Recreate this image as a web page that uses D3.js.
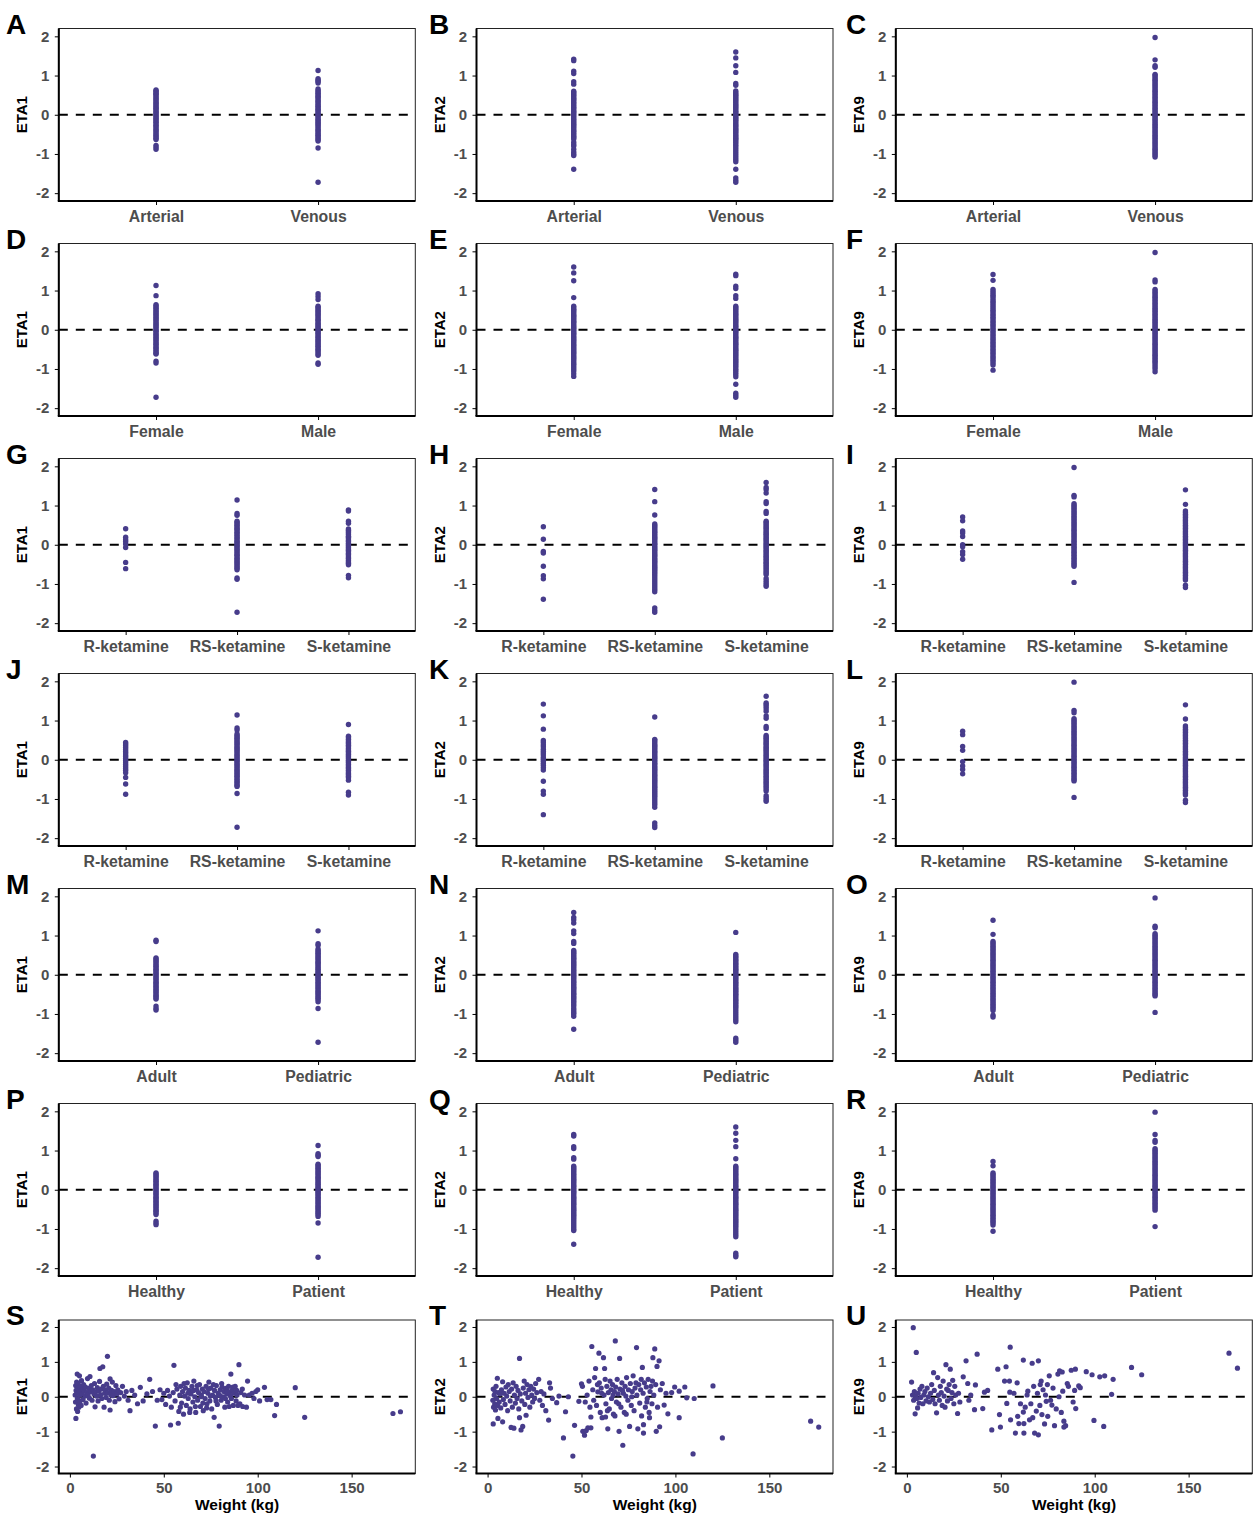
<!DOCTYPE html>
<html>
<head>
<meta charset="utf-8">
<script src="https://cdn.jsdelivr.net/npm/d3@7"></script>
<style>
  body { margin: 0; background: #fff; }
  text { font-family: "Liberation Sans", Arial, sans-serif; }
</style>
</head>
<body>
<div id="chart"></div>
<script>
// 1: DATA
const etaTicks = [-2, -1, 0, 1, 2];
const weightTicks = [0, 50, 100, 150];
const etaNames = ["ETA1", "ETA2", "ETA9"];
const panelLetters = "ABCDEFGHIJKLMNOPQRSTU".split("");

const siteCats = ["Arterial", "Venous"];
const sexCats = ["Female", "Male"];
const formCats = ["R-ketamine", "RS-ketamine", "S-ketamine"];
const popCats = ["Adult", "Pediatric"];
const healthCats = ["Healthy", "Patient"];

// sampling site
const eta1Site = [
  [0.63,0.61,0.58,0.55,0.52,0.49,0.45,0.42,0.38,0.35,0.31,0.28,0.25,0.21,0.18,0.15,0.12,0.08,0.05,0.02,-0.02,-0.05,-0.09,-0.12,-0.16,-0.19,-0.23,-0.27,-0.3,-0.34,-0.38,-0.41,-0.45,-0.49,-0.53,-0.56,-0.6,-0.63,-0.78,-0.83,-0.88],
  [1.13,0.92,0.88,0.85,0.81,0.66,0.62,0.58,0.55,0.51,0.47,0.44,0.4,0.36,0.33,0.29,0.25,0.22,0.18,0.14,0.11,0.07,0.03,0,-0.04,-0.08,-0.12,-0.15,-0.19,-0.23,-0.26,-0.3,-0.34,-0.38,-0.41,-0.45,-0.49,-0.52,-0.56,-0.6,-0.64,-0.67,-0.85,-1.72]
];
const eta2Site = [
  [1.42,1.38,1.11,1.05,0.84,0.78,0.6,0.57,0.53,0.5,0.46,0.42,0.39,0.35,0.31,0.28,0.24,0.2,0.17,0.13,0.09,0.06,0.02,-0.02,-0.06,-0.1,-0.13,-0.17,-0.21,-0.25,-0.28,-0.32,-0.36,-0.4,-0.43,-0.47,-0.51,-0.55,-0.58,-0.62,-0.7,-0.76,-0.8,-0.88,-0.95,-1.0,-1.04,-1.39],
  [1.6,1.45,1.25,1.08,0.8,0.75,0.61,0.57,0.53,0.5,0.46,0.42,0.38,0.35,0.31,0.27,0.23,0.2,0.16,0.12,0.08,0.05,0.01,-0.03,-0.07,-0.1,-0.14,-0.18,-0.22,-0.26,-0.29,-0.33,-0.37,-0.41,-0.44,-0.48,-0.52,-0.56,-0.6,-0.63,-0.67,-0.71,-0.76,-0.8,-0.85,-0.9,-0.95,-1.0,-1.05,-1.1,-1.15,-1.2,-1.39,-1.61,-1.67,-1.72]
];
const eta9Site = [
  [],
  [1.97,1.4,1.25,1.21,1.03,1.0,0.96,0.92,0.88,0.84,0.8,0.76,0.72,0.68,0.64,0.6,0.56,0.52,0.48,0.44,0.4,0.36,0.32,0.28,0.24,0.2,0.16,0.12,0.08,0.04,0,-0.04,-0.08,-0.12,-0.16,-0.2,-0.24,-0.28,-0.32,-0.36,-0.4,-0.44,-0.48,-0.52,-0.56,-0.6,-0.64,-0.68,-0.72,-0.76,-0.8,-0.84,-0.88,-0.92,-0.96,-1.0,-1.04,-1.08]
];

// sex
const eta1Sex = [
  [1.13,0.87,0.64,0.61,0.57,0.54,0.5,0.46,0.43,0.39,0.36,0.32,0.28,0.25,0.21,0.17,0.14,0.1,0.07,0.03,-0.01,-0.04,-0.08,-0.12,-0.15,-0.19,-0.23,-0.26,-0.3,-0.34,-0.37,-0.41,-0.45,-0.48,-0.52,-0.56,-0.6,-0.62,-0.8,-0.85,-1.72],
  [0.92,0.85,0.77,0.6,0.57,0.53,0.49,0.46,0.42,0.38,0.35,0.31,0.27,0.24,0.2,0.16,0.13,0.09,0.05,0.02,-0.02,-0.06,-0.09,-0.13,-0.17,-0.2,-0.24,-0.28,-0.31,-0.35,-0.39,-0.42,-0.46,-0.5,-0.53,-0.57,-0.61,-0.65,-0.85,-0.88]
];
const eta2Sex = [
  [1.6,1.45,1.25,0.82,0.6,0.56,0.52,0.49,0.45,0.41,0.37,0.34,0.3,0.26,0.22,0.19,0.15,0.11,0.07,0.04,0,-0.04,-0.08,-0.11,-0.15,-0.19,-0.23,-0.26,-0.3,-0.34,-0.38,-0.41,-0.45,-0.49,-0.53,-0.57,-0.6,-0.64,-0.68,-0.72,-0.76,-0.81,-0.86,-0.9,-0.95,-1.0,-1.05,-1.12,-1.19],
  [1.42,1.38,1.11,1.05,0.87,0.8,0.6,0.56,0.53,0.49,0.45,0.41,0.38,0.34,0.3,0.26,0.23,0.19,0.15,0.11,0.08,0.04,0,-0.04,-0.07,-0.11,-0.15,-0.19,-0.22,-0.26,-0.3,-0.34,-0.37,-0.41,-0.45,-0.49,-0.52,-0.56,-0.6,-0.64,-0.67,-0.71,-0.75,-0.79,-0.83,-0.87,-0.91,-0.95,-1.0,-1.04,-1.09,-1.14,-1.2,-1.39,-1.62,-1.67,-1.72]
];
const eta9Sex = [
  [1.41,1.26,1.03,0.98,0.93,0.88,0.84,0.79,0.74,0.7,0.65,0.6,0.55,0.5,0.46,0.41,0.37,0.32,0.28,0.23,0.19,0.14,0.1,0.05,0.01,-0.04,-0.08,-0.13,-0.17,-0.22,-0.26,-0.31,-0.35,-0.4,-0.44,-0.49,-0.53,-0.58,-0.62,-0.67,-0.71,-0.76,-0.8,-0.85,-0.9,-1.03],
  [1.97,1.27,1.22,1.03,0.99,0.95,0.91,0.87,0.83,0.79,0.75,0.71,0.67,0.63,0.59,0.55,0.51,0.47,0.43,0.39,0.35,0.31,0.27,0.23,0.19,0.15,0.11,0.07,0.03,-0.01,-0.05,-0.09,-0.13,-0.17,-0.21,-0.25,-0.29,-0.33,-0.37,-0.41,-0.45,-0.49,-0.53,-0.57,-0.61,-0.65,-0.69,-0.73,-0.77,-0.81,-0.85,-0.9,-0.95,-1.0,-1.07]
];

// formulation (first grouping)
const eta1Form = [
  [0.41,0.19,0.13,0.08,0.02,-0.07,-0.45,-0.61],
  [1.14,0.8,0.75,0.6,0.57,0.53,0.5,0.46,0.42,0.39,0.35,0.31,0.28,0.24,0.2,0.17,0.13,0.09,0.06,0.02,-0.02,-0.05,-0.09,-0.13,-0.16,-0.2,-0.24,-0.27,-0.31,-0.35,-0.38,-0.42,-0.46,-0.49,-0.53,-0.57,-0.6,-0.64,-0.85,-0.88,-1.72],
  [0.89,0.86,0.6,0.55,0.4,0.37,0.33,0.3,0.26,0.22,0.19,0.15,0.11,0.08,0.04,0,-0.03,-0.07,-0.11,-0.14,-0.18,-0.22,-0.25,-0.29,-0.33,-0.36,-0.4,-0.44,-0.47,-0.51,-0.78,-0.84]
];
const eta2Form = [
  [0.46,0.14,-0.17,-0.21,-0.55,-0.79,-0.87,-1.39],
  [1.41,1.1,0.76,0.53,0.49,0.46,0.42,0.38,0.34,0.31,0.27,0.23,0.19,0.16,0.12,0.08,0.04,0.01,-0.03,-0.07,-0.11,-0.14,-0.18,-0.22,-0.26,-0.29,-0.33,-0.37,-0.41,-0.44,-0.48,-0.52,-0.56,-0.59,-0.63,-0.67,-0.71,-0.75,-0.8,-0.85,-0.9,-0.95,-1.0,-1.05,-1.1,-1.15,-1.2,-1.61,-1.67,-1.72],
  [1.59,1.46,1.41,1.32,1.1,1.05,0.85,0.8,0.6,0.57,0.53,0.49,0.45,0.42,0.38,0.34,0.3,0.27,0.23,0.19,0.15,0.12,0.08,0.04,0,-0.03,-0.07,-0.11,-0.15,-0.18,-0.22,-0.26,-0.3,-0.33,-0.37,-0.41,-0.45,-0.48,-0.52,-0.56,-0.6,-0.64,-0.68,-0.72,-0.76,-0.86,-0.92,-0.97,-1.02,-1.06]
];
const eta9Form = [
  [0.71,0.61,0.35,0.3,0.21,0.0,-0.05,-0.18,-0.25,-0.37],
  [1.97,1.26,1.22,1.05,1.01,0.97,0.93,0.89,0.85,0.81,0.77,0.73,0.69,0.65,0.61,0.57,0.53,0.49,0.45,0.41,0.37,0.33,0.29,0.25,0.21,0.17,0.13,0.09,0.05,0.01,-0.03,-0.07,-0.11,-0.15,-0.19,-0.23,-0.27,-0.31,-0.35,-0.39,-0.43,-0.47,-0.51,-0.55,-0.96],
  [1.4,1.03,0.86,0.82,0.78,0.74,0.7,0.66,0.62,0.58,0.54,0.5,0.46,0.42,0.38,0.34,0.3,0.26,0.22,0.18,0.14,0.1,0.06,0.02,-0.02,-0.06,-0.1,-0.14,-0.18,-0.22,-0.26,-0.3,-0.34,-0.38,-0.42,-0.46,-0.5,-0.54,-0.58,-0.62,-0.66,-0.7,-0.74,-0.78,-0.82,-0.86,-0.9,-1.03,-1.09]
];

// formulation (second grouping)
const eta1Form2 = [
  [0.44,0.4,0.36,0.31,0.26,0.21,0.17,0.12,0.08,0.03,-0.02,-0.07,-0.12,-0.17,-0.22,-0.27,-0.33,-0.45,-0.62,-0.88],
  [1.14,0.81,0.76,0.66,0.62,0.58,0.55,0.51,0.47,0.43,0.4,0.36,0.32,0.28,0.25,0.21,0.17,0.13,0.1,0.06,0.02,-0.02,-0.05,-0.09,-0.13,-0.16,-0.2,-0.24,-0.28,-0.31,-0.35,-0.39,-0.42,-0.46,-0.5,-0.54,-0.57,-0.61,-0.65,-0.68,-0.86,-1.72],
  [0.9,0.6,0.56,0.52,0.48,0.44,0.41,0.37,0.33,0.29,0.25,0.22,0.18,0.14,0.1,0.07,0.03,-0.01,-0.05,-0.08,-0.12,-0.16,-0.2,-0.23,-0.27,-0.31,-0.35,-0.38,-0.42,-0.46,-0.52,-0.83,-0.9]
];
const eta2Form2 = [
  [1.42,1.12,0.78,0.49,0.44,0.38,0.33,0.27,0.22,0.17,0.12,0.06,0.01,-0.04,-0.09,-0.14,-0.2,-0.26,-0.55,-0.8,-0.88,-1.4],
  [1.09,0.52,0.49,0.45,0.41,0.37,0.34,0.3,0.26,0.22,0.19,0.15,0.11,0.07,0.04,0,-0.04,-0.08,-0.11,-0.15,-0.19,-0.23,-0.26,-0.3,-0.34,-0.38,-0.41,-0.45,-0.49,-0.53,-0.56,-0.6,-0.64,-0.68,-0.71,-0.75,-0.79,-0.83,-0.87,-0.91,-0.95,-1.0,-1.05,-1.1,-1.15,-1.21,-1.61,-1.67,-1.73],
  [1.62,1.45,1.41,1.36,1.3,1.24,1.12,1.06,0.85,0.8,0.62,0.58,0.55,0.51,0.47,0.43,0.4,0.36,0.32,0.28,0.25,0.21,0.17,0.13,0.1,0.06,0.02,-0.02,-0.05,-0.09,-0.13,-0.16,-0.2,-0.24,-0.28,-0.31,-0.35,-0.39,-0.43,-0.46,-0.5,-0.54,-0.58,-0.62,-0.66,-0.7,-0.75,-0.8,-0.92,-0.97,-1.02,-1.06]
];
const eta9Form2 = [
  [0.73,0.64,0.34,0.24,-0.05,-0.16,-0.25,-0.36],
  [1.98,1.26,1.2,1.05,1.01,0.97,0.93,0.89,0.85,0.81,0.77,0.73,0.69,0.65,0.61,0.57,0.53,0.49,0.45,0.41,0.37,0.33,0.29,0.25,0.21,0.17,0.13,0.09,0.05,0.01,-0.03,-0.07,-0.11,-0.15,-0.19,-0.23,-0.27,-0.31,-0.35,-0.39,-0.43,-0.47,-0.51,-0.54,-0.96],
  [1.4,1.04,0.86,0.82,0.78,0.74,0.7,0.66,0.62,0.58,0.54,0.5,0.46,0.42,0.38,0.34,0.3,0.26,0.22,0.18,0.14,0.1,0.06,0.02,-0.02,-0.06,-0.1,-0.14,-0.18,-0.22,-0.26,-0.3,-0.34,-0.38,-0.42,-0.46,-0.5,-0.54,-0.58,-0.62,-0.66,-0.7,-0.74,-0.78,-0.82,-0.86,-0.9,-1.03,-1.09]
];

// population
const eta1Pop = [
  [0.88,0.85,0.43,0.4,0.36,0.33,0.29,0.25,0.22,0.18,0.14,0.11,0.07,0.03,0,-0.04,-0.08,-0.11,-0.15,-0.19,-0.22,-0.26,-0.3,-0.33,-0.37,-0.41,-0.44,-0.48,-0.52,-0.55,-0.59,-0.62,-0.8,-0.86,-0.9],
  [1.12,0.79,0.75,0.66,0.62,0.58,0.55,0.51,0.47,0.43,0.4,0.36,0.32,0.29,0.25,0.21,0.17,0.14,0.1,0.06,0.03,-0.01,-0.05,-0.08,-0.12,-0.16,-0.2,-0.23,-0.27,-0.31,-0.34,-0.38,-0.42,-0.46,-0.49,-0.53,-0.57,-0.6,-0.64,-0.69,-0.86,-1.72]
];
const eta2Pop = [
  [1.59,1.46,1.4,1.32,1.12,1.05,0.85,0.8,0.62,0.58,0.55,0.51,0.47,0.43,0.4,0.36,0.32,0.28,0.25,0.21,0.17,0.13,0.1,0.06,0.02,-0.02,-0.05,-0.09,-0.13,-0.17,-0.2,-0.24,-0.28,-0.32,-0.35,-0.39,-0.43,-0.47,-0.5,-0.54,-0.58,-0.62,-0.66,-0.7,-0.75,-0.8,-0.86,-0.91,-0.96,-1.0,-1.06,-1.39],
  [1.08,0.52,0.48,0.45,0.41,0.37,0.33,0.29,0.26,0.22,0.18,0.14,0.11,0.07,0.03,-0.01,-0.05,-0.08,-0.12,-0.16,-0.2,-0.23,-0.27,-0.31,-0.35,-0.38,-0.42,-0.46,-0.5,-0.53,-0.57,-0.61,-0.65,-0.69,-0.73,-0.77,-0.81,-0.85,-0.9,-0.95,-1.0,-1.05,-1.1,-1.15,-1.2,-1.62,-1.67,-1.72]
];
const eta9Pop = [
  [1.39,1.03,0.85,0.81,0.77,0.73,0.69,0.65,0.61,0.57,0.53,0.49,0.45,0.41,0.37,0.33,0.29,0.25,0.21,0.17,0.13,0.09,0.05,0.01,-0.03,-0.07,-0.11,-0.15,-0.19,-0.23,-0.27,-0.31,-0.35,-0.39,-0.43,-0.47,-0.51,-0.55,-0.59,-0.63,-0.67,-0.71,-0.75,-0.79,-0.83,-0.87,-0.91,-1.03,-1.08],
  [1.96,1.24,1.2,1.05,1.01,0.97,0.93,0.89,0.85,0.81,0.77,0.73,0.69,0.65,0.61,0.57,0.53,0.49,0.45,0.41,0.37,0.33,0.29,0.25,0.21,0.17,0.13,0.09,0.05,0.01,-0.03,-0.07,-0.11,-0.15,-0.19,-0.23,-0.27,-0.31,-0.35,-0.39,-0.43,-0.47,-0.51,-0.54,-0.96]
];

// health status
const eta1Health = [
  [0.43,0.4,0.36,0.33,0.29,0.25,0.22,0.18,0.14,0.11,0.07,0.03,0,-0.04,-0.08,-0.11,-0.15,-0.19,-0.22,-0.26,-0.3,-0.33,-0.37,-0.41,-0.44,-0.48,-0.52,-0.55,-0.59,-0.63,-0.8,-0.85,-0.89],
  [1.13,0.92,0.88,0.85,0.65,0.62,0.58,0.55,0.51,0.47,0.43,0.4,0.36,0.32,0.29,0.25,0.21,0.17,0.14,0.1,0.06,0.03,-0.01,-0.05,-0.08,-0.12,-0.16,-0.2,-0.23,-0.27,-0.31,-0.34,-0.38,-0.42,-0.46,-0.49,-0.53,-0.57,-0.6,-0.64,-0.68,-0.85,-1.72]
];
const eta2Health = [
  [1.41,1.37,1.1,1.05,0.82,0.78,0.6,0.56,0.53,0.49,0.45,0.41,0.38,0.34,0.3,0.26,0.23,0.19,0.15,0.11,0.08,0.04,0,-0.04,-0.07,-0.11,-0.15,-0.19,-0.22,-0.26,-0.3,-0.34,-0.37,-0.41,-0.45,-0.49,-0.52,-0.56,-0.6,-0.64,-0.67,-0.71,-0.75,-0.8,-0.85,-0.9,-0.95,-1.0,-1.04,-1.39],
  [1.6,1.44,1.26,1.1,0.79,0.6,0.56,0.53,0.49,0.45,0.41,0.38,0.34,0.3,0.26,0.23,0.19,0.15,0.11,0.08,0.04,0,-0.04,-0.07,-0.11,-0.15,-0.19,-0.22,-0.26,-0.3,-0.34,-0.37,-0.41,-0.45,-0.49,-0.52,-0.56,-0.6,-0.64,-0.67,-0.71,-0.75,-0.79,-0.83,-0.87,-0.91,-0.95,-1.0,-1.05,-1.1,-1.15,-1.2,-1.62,-1.67,-1.71]
];
const eta9Health = [
  [0.72,0.61,0.43,0.39,0.35,0.31,0.27,0.23,0.19,0.15,0.11,0.07,0.03,-0.01,-0.05,-0.09,-0.13,-0.17,-0.21,-0.25,-0.29,-0.33,-0.37,-0.41,-0.45,-0.49,-0.53,-0.57,-0.61,-0.65,-0.69,-0.73,-0.77,-0.81,-0.85,-0.9,-1.06],
  [1.98,1.41,1.26,1.21,1.05,1.01,0.97,0.93,0.89,0.85,0.81,0.77,0.73,0.69,0.65,0.61,0.57,0.53,0.49,0.45,0.41,0.37,0.33,0.29,0.25,0.21,0.17,0.13,0.09,0.05,0.01,-0.03,-0.07,-0.11,-0.15,-0.19,-0.23,-0.27,-0.31,-0.35,-0.39,-0.43,-0.47,-0.52,-0.94]
];

// body weight (kg) vs ETA: [weight, eta]
const wtEta1 = [
  [2.8,0.05],[3,-0.15],[3.1,0.32],[3.2,-0.62],[3.3,0.18],[3.5,-0.35],[3.6,0.42],[3.7,0.1],[3.9,0.65],[4,-0.05],[4.1,-0.42],[4.2,0.25],[4.4,0.38],[4.5,-0.22],[4.6,0.12],[4.8,-0.3],[5,0.2],[5.1,0.6],[5.3,0.05],[5.4,-0.12],[5.6,0.3],[5.8,0.14],[6,-0.25],[6.2,0.46],[6.5,0.08],[6.8,0.22],[7,-0.08],[7.3,0.35],[7.6,0.17],[8,0.02],
  [8.3,0.28],[8.6,-0.18],[9,0.12],[9.4,0.52],[9.7,0.06],[10,0.24],[10.4,-0.04],[10.7,0.58],[11,0.15],[11.4,0.32],[11.8,-0.1],[12.2,0.2],[12.5,-1.7],[12.8,0.08],[13.1,0.38],[13.4,-0.29],[13.8,0.14],[14.2,0.02],[14.6,0.26],[15,-0.12],[15.4,0.18],[15.8,0.44],[16,0.81],[16.3,0.06],[16.7,0.22],[17,-0.05],[17.5,0.86],[17.8,0.3],[18.2,-0.3],[18.5,0.1],
  [18.9,0.19],[19.3,-0.02],[19.6,0.36],[20,1.16],[20.3,0.12],[20.7,0.25],[21,-0.1],[21.4,0.51],[21.4,-0.38],[21.8,0.06],[22.2,0.18],[22.6,0.42],[23,0.03],[23.5,0.15],[24,-0.14],[24.5,0.32],[25,0.08],[25.5,0.2],[26.2,-0.06],[27,0.12],[28,0.3],[29,0.02],[30,0.15],[31,-0.1],[32,-0.4],[33,0.18],[34.5,0.05],[36,-0.2],[37.5,0.27],[39,-0.12],
  [41,0.08],[42.5,0.5],[44,0.15],[45.5,-0.84],[46.5,-0.1],[48,0.2],[49,-0.08],[50,0.1],[51,-0.22],[52,0.18],[53,0.02],[53.6,-0.81],[54,-0.3],[55,0.12],[55.4,0.9],[56,-0.12],[57,0.22],[57.7,-0.76],[58,-0.42],[58.5,0.05],[59,0.3],[59.5,-0.18],[60,0.15],[60.5,-0.5],[61,0.02],[61.5,0.25],[62,-0.25],[62.5,0.4],[63,-0.05],[63.5,0.18],
  [64,-0.35],[64.5,0.08],[65,0.3],[65.5,-0.15],[66,0.45],[66.5,0],[67,-0.45],[67.5,0.2],[68,-0.1],[68.5,0.12],[69,0.35],[69.5,-0.28],[70,0.05],[70.5,0.22],[71,-0.4],[71.5,0.15],[72,-0.05],[72.5,0.3],[73,-0.2],[73.5,0.1],[74,0.42],[74.5,-0.12],[75,0.25],[75.5,-0.35],[76,0.05],[76.8,-0.59],[77,0.18],[77.5,-0.02],[78,0.32],[78.5,-0.22],
  [79,0.1],[79.5,-0.84],[80,0.2],[80.5,-0.1],[81,0.28],[81.5,0],[82,0.15],[82.5,-0.3],[83,0.24],[83.5,0.08],[84,-0.15],[84.5,0.3],[85,0.12],[85.7,0.65],[86,-0.05],[86.5,0.2],[87,-0.25],[87.5,0.1],[88,0.3],[88.5,-0.12],[89,0.05],[90,0.92],[90.5,-0.2],[91,0.12],[92,-0.28],[93,0.05],[94,-0.3],[94.6,0.45],[95.5,0.05],[97,0.1],
  [98,-0.05],[99,0.15],[100,0.2],[101,-0.12],[103.6,0.27],[105,-0.08],[107,-0.08],[109,-0.54],[110,-0.22],[120,0.26],[125,-0.59],[172,-0.48],[176,-0.43],
  [56.5,0.35],[58.8,-0.3],[60.8,0.38],[62.8,0.1],[63.8,-0.45],[65.8,0.18],[66.8,-0.28],[67.8,0.32],[69.8,0.0],[70.8,-0.18],[72.8,-0.32],[73.8,0.22],[74.8,0.02],[76.4,0.35],[77.8,-0.12],[79.8,0.04],[80.8,0.38],[82.8,-0.05],[83.8,0.18],[84.8,-0.28],[85.5,0.02],[86.8,0.28],[88.8,0.18],[89.5,-0.25],[91.8,0.22]
];
const wtEta2 = [
  [2.8,-0.1],[3,0.22],[3.2,-0.3],[3,-0.78],[3.5,0.05],[3.8,-0.2],[4,0.15],[4.2,-0.38],[4.5,0.3],[4.8,-0.05],[5.2,0.53],[5.5,-0.62],[5.3,-0.25],[5.8,0.12],[6.2,-0.15],[6.6,0.08],[7,-0.32],[7.4,0.2],[8,0.43],[8,-0.72],[8.4,-0.08],[8.8,0.1],[9.3,-0.22],[9.8,0.28],[10.2,0.02],[10.7,-0.4],[11,0.35],[11.5,0.15],[12,-0.12],[12.5,-0.88],
  [12.8,0.22],[13.2,-0.3],[13.6,0.4],[14,-0.9],[14.3,0.05],[14.8,-0.18],[15.2,0.3],[15.7,-0.05],[16.2,0.18],[16.6,-0.35],[17,1.1],[17,-0.6],[17.4,0.08],[17.8,-0.95],[18.2,-0.12],[18.7,-0.85],[19,0.25],[19.5,0.45],[19.8,-0.22],[20.2,0.1],[20.5,-0.53],[21,0.35],[21.5,-0.02],[22,0.2],[22.5,-0.3],[23,0.3],[23.5,0.05],[24,-0.15],[24.5,0.22],[25,-0.05],
  [25.6,0.38],[26.2,0.12],[27.2,0.5],[27.8,-0.1],[28.5,0.15],[29.2,-0.25],[30,0.08],[31,-0.4],[32.5,-0.67],[33,0.4],[33.5,0.25],[34.5,-0.05],[36.8,-0.17],[38,0.02],[40.4,-1.18],[41.5,-0.43],[43,0],[45.4,-1.7],[46.3,-0.82],[48.6,-0.13],
  [50,0.37],[50.7,-0.99],[51.6,-1.1],[52.5,-0.97],[53.4,-0.89],[50.5,0.3],[52,-0.15],[53,0.05],[54,0.45],[54.5,-0.3],[55,-0.89],[55,-0.58],[55.5,1.44],[56,0.2],[56.5,-0.1],[57,0.55],[57.5,0.81],[58,-0.25],[58.7,0.14],[59.3,1.25],[59.5,0.4],[60,-0.45],[60.5,0.25],[61,-0.6],[61.7,1.12],[62,0.05],[62.3,0.81],[62.6,0.5],[63,-0.2],[63.5,0.3],
  [64,-0.92],[64.3,0.12],[64.8,-0.35],[65.2,0.45],[65.7,0.2],[66,-0.05],[66.5,0.35],[67,-0.5],[67.5,0.15],[68,1.6],[68.2,0.28],[68.6,-0.15],[69,0.5],[69.5,0.08],[70,-0.99],[70.3,1.1],[70.5,0.22],[71,-0.3],[71.5,0.4],[72,-1.39],[72.3,0.1],[72.8,-0.45],[73.2,0.3],[73.6,0.02],[74,0.55],[74.7,-0.1],[75,0.2],[75.6,-0.85],[76,0.38],[76.5,-0.25],
  [77,0.15],[77.5,0.6],[78,-0.4],[78.5,0.25],[79.3,1.41],[79.5,0.05],[80,-0.92],[80.5,0.35],[81,-0.18],[81.5,0.2],[82,-0.55],[82.4,0.84],[82.8,0.1],[83,-0.8],[83,-1.04],[83.5,0.4],[84,-0.3],[84.5,0.28],[85,-0.05],[85.5,0.5],[86,-0.45],[86.5,0.15],[87,0.3],[87.5,-0.2],[88,1.12],[88.5,0.05],[89,1.37],[89.5,0.35],[89.8,-0.99],[90.2,0.87],
  [90.5,-0.3],[91.3,1.03],[91.6,-0.86],[92,0.2],[93,0.38],[94,-0.24],[95,0.1],[96,-0.49],[98,0.12],[99.6,0.28],[102,0.16],[102,-0.6],[105,0.28],[106,-0.03],[109.4,-1.64],[110,-0.05],[120,0.31],[125,-1.18],[172,-0.7],[176.3,-0.87],
  [58.5,0.35],[60.8,0.1],[63.8,-0.4],[66.8,0.05],[69.8,-0.2],[71.8,0.18],[73.8,-0.5],[76.8,0],[79,0.4],[81.8,0.5],[84.8,-0.15],[87.8,0.45],[86.2,-0.6],[67.8,-0.55],[62.8,-0.58]
];
const wtEta9 = [
  [2.5,0.42],[3,0.05],[3.4,1.98],[3.6,-0.1],[4,0.15],[4.4,-0.49],[4.6,0.02],[5,1.27],[5.3,-0.05],[5.7,-0.32],[6,0.1],[6.5,-0.18],[7,0.22],[7.4,-0.02],[8,0.3],[8.5,-0.2],[9,0.05],[9.6,0.15],[10.2,-0.12],[10.8,0.25],[11.4,0],[12,-0.15],[12.6,0.1],[13.2,0.35],[13.8,-0.08],[14.2,0.69],[14.6,0.18],[15,-0.2],[15.8,-0.46],[16.4,0.55],
  [16.8,0.05],[17.3,-0.1],[17.8,0.3],[18.3,0.12],[18.8,-0.25],[19.3,0.45],[19.8,0.02],[20.3,-0.3],[20.8,0.92],[21.2,0.22],[21.6,-0.12],[22,0.18],[22.5,0.35],[23.1,0.79],[23.5,-0.05],[24,0.12],[24.4,0.47],[25,-0.2],[25.5,0.3],[26,0.05],[27,-0.48],[27.5,0.1],[28.2,-0.15],[30,0.57],[31.5,1.03],[32.4,0.38],[33,-0.1],[34,0.05],[36,-0.37],[36.5,0.34],
  [37.4,1.22],[40.4,-0.34],[41.3,0.13],[43,0.18],[45.2,-0.95],[48.4,0.79],[49.3,-0.51],[49.8,-0.87],[52,0.45],[52.8,0.86],[53.2,-0.19],[54.6,0.45],[55,1.42],[54.8,0.13],[55.2,-0.66],[57.8,-1.04],[58.7,0.4],[59,-0.56],[59.6,-0.77],[62,1.05],[62.3,-1.04],[62,-0.44],[62.3,-0.77],[64.4,0.16],[65.3,-0.66],[66.7,0.96],[68,-1.04],[70,1.03],[70,-1.09],[68.9,-0.41],
  [71.5,0.45],[71.9,-0.51],[73.3,-0.78],[74.2,-0.13],[75,-0.56],[75.8,0.6],[77.2,-0.24],[78.6,-0.83],[80.4,0.65],[81.3,0.74],[82.7,0.71],[83,0.16],[83.6,-0.7],[84.5,-0.83],[83.6,-0.87],[85.4,0.38],[87.5,0.76],[89.7,0.79],[89.9,-0.34],[89.3,0.18],[91.5,0.31],[92.3,0.26],[95.5,0.72],[98.6,0.63],[99.6,-0.68],[102.7,0.57],[104.8,-0.85],[105.3,0.6],[109,0.07],[109.8,0.5],
  [119.6,0.84],[125,0.63],[171.5,1.25],[176,0.82],
  [64,0.05],[66,-0.2],[67.5,0.3],[69.5,0.1],[70.8,-0.25],[72.5,0.2],[73.8,0.05],[76.5,-0.1],[77.8,0.25],[79.5,-0.35],[81,0.0],[82.2,-0.45],[86,0.3],[88.5,-0.15],[60.5,-0.2],[57,0.1],[63,-0.3],[67,-0.6],[71,0.35],[74.8,0.35]
];

// 2: LAYOUT
const colX = [58.8, 476.5, 895.8];
const plotW = 356.5;
const rowY = [28.5, 243.5, 458.5, 673.5, 888.5, 1103.5, 1320];
const rowH = [172.5, 172.5, 172.5, 172.5, 172.5, 172.5, 153.5];
const letterX = [6, 429, 846];
const pointColor = "#473C8B";
const fontFam = "Liberation Sans, Arial, sans-serif";

const stripRows = [
    { cats: siteCats, sets: [eta1Site, eta2Site, eta9Site] },
    { cats: sexCats, sets: [eta1Sex, eta2Sex, eta9Sex] },
    { cats: formCats, sets: [eta1Form, eta2Form, eta9Form] },
    { cats: formCats, sets: [eta1Form2, eta2Form2, eta9Form2] },
    { cats: popCats, sets: [eta1Pop, eta2Pop, eta9Pop] },
    { cats: healthCats, sets: [eta1Health, eta2Health, eta9Health] }
];
const weightSets = [wtEta1, wtEta2, wtEta9];

const svg = d3.select("#chart")
    .append("svg")
    .attr("width", 1257)
    .attr("height", 1517);

// draw the frame shared by every panel: y axis, zero line, border, letter, title
function drawFrame(g, h, yScale, col, idx) {
    g.append("rect")
        .attr("width", plotW)
        .attr("height", h)
        .attr("fill", "none")
        .attr("stroke", "#222")
        .attr("stroke-width", 1);

    g.append("line")
        .attr("x1", 0).attr("x2", plotW)
        .attr("y1", yScale(0)).attr("y2", yScale(0))
        .attr("stroke", "#000")
        .attr("stroke-width", 1.8)
        .attr("stroke-dasharray", "9,8");

    const yAxis = g.append("g")
        .call(d3.axisLeft(yScale).tickValues(etaTicks).tickFormat(d => String(d)).tickSize(4).tickPadding(5.5));
    yAxis.select(".domain").remove();
    yAxis.attr("font-family", fontFam).attr("font-size", 15).attr("font-weight", "bold");
    yAxis.selectAll("line").attr("stroke", "#000").attr("stroke-width", 1);
    yAxis.selectAll("text").attr("fill", "#4d4d4d");

    // y title
    g.append("text")
        .attr("transform", `translate(-32,${h / 2}) rotate(-90)`)
        .attr("text-anchor", "middle")
        .attr("font-family", fontFam)
        .attr("font-size", 15)
        .attr("font-weight", "bold")
        .attr("fill", "#000")
        .text(etaNames[col]);

    // panel letter
    g.append("text")
        .attr("x", letterX[col] - colX[col])
        .attr("y", 5)
        .attr("font-family", fontFam)
        .attr("font-size", 28)
        .attr("font-weight", "bold")
        .attr("fill", "#000")
        .text(panelLetters[idx]);
}

function drawAxisLines(g, h) {
    g.append("line")
        .attr("x1", 0).attr("x2", 0).attr("y1", 0).attr("y2", h)
        .attr("stroke", "#000").attr("stroke-width", 2);
    g.append("line")
        .attr("x1", -1).attr("x2", plotW).attr("y1", h).attr("y2", h)
        .attr("stroke", "#000").attr("stroke-width", 2);
}

// 3: STRIP PANELS
stripRows.forEach((row, r) => {
    const h = rowH[r];
    const yScale = d3.scaleLinear().domain([-2.2, 2.2]).range([h, 0]);
    const xScale = d3.scalePoint().domain(row.cats).range([0, plotW]).padding(0.6);

    row.sets.forEach((groups, c) => {
        const g = svg.append("g").attr("transform", `translate(${colX[c]},${rowY[r]})`);
        drawFrame(g, h, yScale, c, r * 3 + c);

        const pts = groups.flatMap((vals, i) => vals.map(v => ({ cat: row.cats[i], v: v })));
        g.selectAll("circle")
            .data(pts)
            .enter()
            .append("circle")
            .attr("cx", d => xScale(d.cat))
            .attr("cy", d => yScale(d.v))
            .attr("r", 2.7)
            .attr("fill", pointColor);

        const xAxis = g.append("g")
            .attr("transform", `translate(0,${h})`)
            .call(d3.axisBottom(xScale).tickSize(4).tickPadding(5.3));
        xAxis.select(".domain").remove();
        xAxis.attr("font-family", fontFam).attr("font-size", 15.8).attr("font-weight", "bold");
        xAxis.selectAll("line").attr("stroke", "#000").attr("stroke-width", 1);
        xAxis.selectAll("text").attr("fill", "#4d4d4d");

        drawAxisLines(g, h);
    });
});

// 4: WEIGHT SCATTER PANELS
const wr = 6;
const wh = rowH[wr];
const wyScale = d3.scaleLinear().domain([-2.2, 2.2]).range([wh, 0]);
const wxScale = d3.scaleLinear().domain([-5.9, 183.9]).range([0, plotW]);

weightSets.forEach((pairs, c) => {
    const g = svg.append("g").attr("transform", `translate(${colX[c]},${rowY[wr]})`);
    drawFrame(g, wh, wyScale, c, wr * 3 + c);

    g.selectAll("circle")
        .data(pairs)
        .enter()
        .append("circle")
        .attr("cx", d => wxScale(d[0]))
        .attr("cy", d => wyScale(d[1]))
        .attr("r", 2.6)
        .attr("fill", pointColor);

    const xAxis = g.append("g")
        .attr("transform", `translate(0,${wh})`)
        .call(d3.axisBottom(wxScale).tickValues(weightTicks).tickSize(4).tickPadding(4.9));
    xAxis.select(".domain").remove();
    xAxis.attr("font-family", fontFam).attr("font-size", 15).attr("font-weight", "bold");
    xAxis.selectAll("line").attr("stroke", "#000").attr("stroke-width", 1);
    xAxis.selectAll("text").attr("fill", "#4d4d4d");

    g.append("text")
        .attr("x", plotW / 2)
        .attr("y", wh + 36.5)
        .attr("text-anchor", "middle")
        .attr("font-family", fontFam)
        .attr("font-size", 15.5)
        .attr("font-weight", "bold")
        .attr("fill", "#000")
        .text("Weight (kg)");

    drawAxisLines(g, wh);
});
</script>
</body>
</html>
